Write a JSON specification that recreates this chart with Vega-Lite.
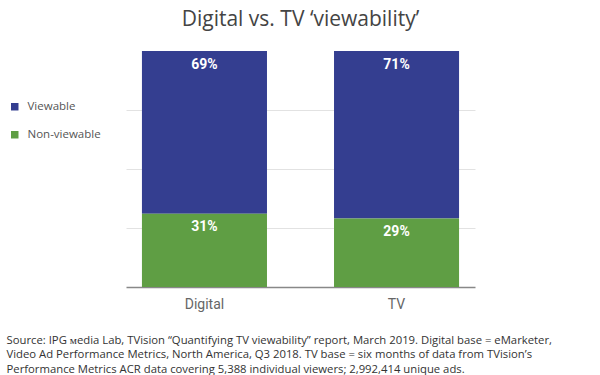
{
  "$schema": "https://vega.github.io/schema/vega-lite/v6.json",
  "width": 349,
  "height": 236,
  "autosize": {"type": "none"},
  "padding": {"left": 126, "top": 51, "right": 125, "bottom": 88},
  "background": "white",
  "config": {
    "view": {"stroke": null},
    "font": "Open Sans"
  },
  "title": {
    "text": "Digital vs. TV ‘viewability’",
    "font": "Open Sans",
    "fontSize": 21,
    "fontWeight": "normal",
    "color": "#444444",
    "anchor": "middle",
    "baseline": "alphabetic",
    "offset": 4
  },
  "data": {
    "values": [
      {"cat": "Digital", "type": "Viewable", "share": 0.69},
      {"cat": "Digital", "type": "Non-viewable", "share": 0.31},
      {"cat": "TV", "type": "Viewable", "share": 0.71},
      {"cat": "TV", "type": "Non-viewable", "share": 0.29}
    ]
  },
  "transform": [
    {"stack": "share", "groupby": ["cat"], "sort": [{"field": "type", "order": "ascending"}], "as": ["v0", "v1"]}
  ],
  "encoding": {
    "x": {
      "field": "cat",
      "type": "nominal",
      "sort": ["Digital", "TV"],
      "scale": {"paddingInner": 0.349, "paddingOuter": 0.083},
      "axis": {
        "labelAngle": 0,
        "labelFont": "Roboto",
        "labelFontSize": 14,
        "labelColor": "#666666",
        "labelPadding": 10,
        "ticks": false,
        "domainColor": "#888888",
        "domainWidth": 1.5,
        "title": [
          "Source: IPG ᴍedia Lab, TVision “Quantifying TV viewability” report, March 2019. Digital base = eMarketer,",
          "Video Ad Performance Metrics, North America, Q3 2018. TV base = six months of data from TVision’s",
          "Performance Metrics ACR data covering 5,388 individual viewers; 2,992,414 unique ads."
        ],
        "titleFont": "Open Sans",
        "titleFontSize": 11.3,
        "titleFontWeight": "normal",
        "titleColor": "#333333",
        "titleLineHeight": 14.5,
        "titleAnchor": "start",
        "titleAlign": "left",
        "titleBaseline": "top",
        "titleX": -120,
        "titleY": 47
      }
    }
  },
  "layer": [
    {
      "mark": {"type": "bar"},
      "encoding": {
        "y": {
          "field": "v0",
          "type": "quantitative",
          "scale": {"domain": [0, 1], "nice": false},
          "axis": {
            "values": [0.25, 0.5, 0.75],
            "grid": true,
            "gridColor": "#e2e2e2",
            "gridWidth": 1,
            "labels": false,
            "ticks": false,
            "domain": false,
            "title": null
          }
        },
        "y2": {"field": "v1"},
        "color": {
          "field": "type",
          "type": "nominal",
          "scale": {"domain": ["Viewable", "Non-viewable"], "range": ["#343e90", "#5f9e44"]},
          "legend": {
            "orient": "none",
            "legendX": -117,
            "legendY": 50,
            "title": null,
            "symbolType": "square",
            "symbolSize": 56,
            "symbolStrokeWidth": 0,
            "labelFont": "Open Sans",
            "labelFontSize": 11.5,
            "labelColor": "#555555",
            "labelOffset": 7,
            "rowPadding": 15
          }
        }
      }
    },
    {
      "mark": {
        "type": "text",
        "color": "white",
        "font": "Roboto",
        "fontSize": 14,
        "fontWeight": "bold",
        "baseline": "middle",
        "dy": 13.5
      },
      "encoding": {
        "y": {"field": "v1", "type": "quantitative"},
        "text": {"field": "share", "type": "quantitative", "format": ".0%"}
      }
    }
  ]
}
